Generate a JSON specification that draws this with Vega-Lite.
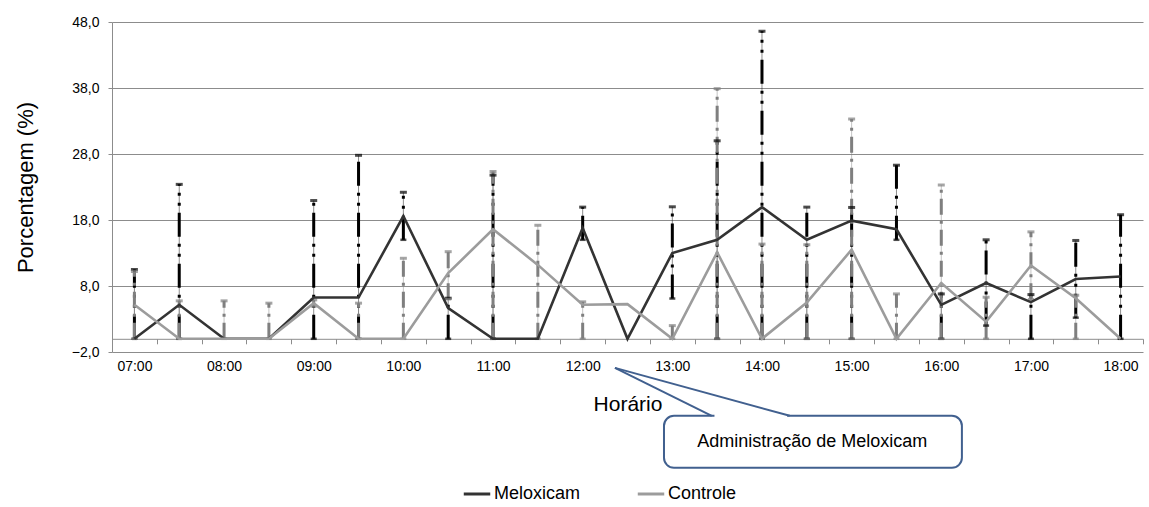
{
  "$schema": "https://vega.github.io/schema/vega-lite/v6.json",
  "width": 1031,
  "height": 330,
  "autosize": "none",
  "padding": {"left": 112, "top": 22, "right": 6, "bottom": 155},
  "background": "white",
  "config": {
    "font": "Liberation Sans",
    "view": {"stroke": null},
    "axisY": {
      "grid": true, "gridColor": "#8c8c8c", "gridWidth": 1,
      "domainColor": "#8c8c8c", "tickColor": "#8c8c8c", "tickSize": 4,
      "labelFontSize": 14, "labelColor": "#000000", "labelPadding": 9,
      "titleFontSize": 22, "titleFontWeight": "normal", "titleColor": "#000000", "titlePadding": 34
    },
    "axisX": {
      "grid": false, "domainColor": "#8c8c8c", "tickColor": "#8c8c8c",
      "labelFontSize": 14, "labelColor": "#000000",
      "titleFontSize": 21, "titleFontWeight": "normal", "titleColor": "#000000"
    },
    "legend": {"labelFontSize": 18, "labelColor": "#000000"}
  },
  "datasets": {
    "dados": [
      {"hora": 7.0, "serie": "Meloxicam", "valor": 0, "min": 0, "max": 10.5},
      {"hora": 7.5, "serie": "Meloxicam", "valor": 5.15, "min": 0, "max": 23.4},
      {"hora": 8.0, "serie": "Meloxicam", "valor": 0, "min": 0, "max": 0},
      {"hora": 8.5, "serie": "Meloxicam", "valor": 0, "min": 0, "max": 0},
      {"hora": 9.0, "serie": "Meloxicam", "valor": 6.25, "min": 0, "max": 20.95},
      {"hora": 9.5, "serie": "Meloxicam", "valor": 6.25, "min": 0, "max": 27.8},
      {"hora": 10.0, "serie": "Meloxicam", "valor": 18.6, "min": 15.0, "max": 22.2},
      {"hora": 10.5, "serie": "Meloxicam", "valor": 4.65, "min": 0, "max": 6.15},
      {"hora": 11.0, "serie": "Meloxicam", "valor": 0, "min": 0, "max": 24.8},
      {"hora": 11.5, "serie": "Meloxicam", "valor": 0, "min": 0, "max": 0},
      {"hora": 12.0, "serie": "Meloxicam", "valor": 16.8, "min": 15.0, "max": 19.95},
      {"hora": 12.5, "serie": "Meloxicam", "valor": 0, "min": 0, "max": 0},
      {"hora": 13.0, "serie": "Meloxicam", "valor": 13.0, "min": 6.1, "max": 20.0},
      {"hora": 13.5, "serie": "Meloxicam", "valor": 15.0, "min": 0, "max": 30.0},
      {"hora": 14.0, "serie": "Meloxicam", "valor": 19.95, "min": 0, "max": 46.6},
      {"hora": 14.5, "serie": "Meloxicam", "valor": 15.0, "min": 0, "max": 19.95},
      {"hora": 15.0, "serie": "Meloxicam", "valor": 17.9, "min": 0, "max": 19.9},
      {"hora": 15.5, "serie": "Meloxicam", "valor": 16.6, "min": 15.0, "max": 26.3},
      {"hora": 16.0, "serie": "Meloxicam", "valor": 5.15, "min": 0, "max": 6.8},
      {"hora": 16.5, "serie": "Meloxicam", "valor": 8.45, "min": 2.0, "max": 15.0},
      {"hora": 17.0, "serie": "Meloxicam", "valor": 5.55, "min": 0, "max": 6.7},
      {"hora": 17.5, "serie": "Meloxicam", "valor": 9.05, "min": 3.2, "max": 14.9},
      {"hora": 18.0, "serie": "Meloxicam", "valor": 9.45, "min": 0, "max": 18.8},
      {"hora": 7.0, "serie": "Controle", "valor": 5.15, "min": 0, "max": 10.2},
      {"hora": 7.5, "serie": "Controle", "valor": 0, "min": 0, "max": 5.75},
      {"hora": 8.0, "serie": "Controle", "valor": 0, "min": 0, "max": 5.75},
      {"hora": 8.5, "serie": "Controle", "valor": 0, "min": 0, "max": 5.4},
      {"hora": 9.0, "serie": "Controle", "valor": 5.4, "min": 4.9, "max": 5.9},
      {"hora": 9.5, "serie": "Controle", "valor": 0, "min": 0, "max": 5.4},
      {"hora": 10.0, "serie": "Controle", "valor": 0, "min": 0, "max": 12.2},
      {"hora": 10.5, "serie": "Controle", "valor": 9.95, "min": 6.0, "max": 13.2},
      {"hora": 11.0, "serie": "Controle", "valor": 16.6, "min": 0, "max": 25.35},
      {"hora": 11.5, "serie": "Controle", "valor": 11.2, "min": 0, "max": 17.2},
      {"hora": 12.0, "serie": "Controle", "valor": 5.15, "min": 0, "max": 5.6},
      {"hora": 12.5, "serie": "Controle", "valor": 5.25, "min": 5.25, "max": 5.25},
      {"hora": 13.0, "serie": "Controle", "valor": 0, "min": 0, "max": 2.0},
      {"hora": 13.5, "serie": "Controle", "valor": 13.1, "min": 0, "max": 37.9},
      {"hora": 14.0, "serie": "Controle", "valor": 0, "min": 0, "max": 14.35},
      {"hora": 14.5, "serie": "Controle", "valor": 5.5, "min": 0, "max": 14.25},
      {"hora": 15.0, "serie": "Controle", "valor": 13.5, "min": 0, "max": 33.3},
      {"hora": 15.5, "serie": "Controle", "valor": 0, "min": 0, "max": 6.8},
      {"hora": 16.0, "serie": "Controle", "valor": 8.45, "min": 0, "max": 23.3},
      {"hora": 16.5, "serie": "Controle", "valor": 2.6, "min": 0, "max": 6.3},
      {"hora": 17.0, "serie": "Controle", "valor": 11.1, "min": 6.0, "max": 16.2},
      {"hora": 17.5, "serie": "Controle", "valor": 6.15, "min": 0, "max": 6.6},
      {"hora": 18.0, "serie": "Controle", "valor": 0, "min": 0, "max": 0}
    ],
    "anotacao": [{"texto": "Administração de Meloxicam"}]
  },
  "resolve": {"axis": {"x": "independent"}},
  "layer": [
    {
      "data": {"name": "dados"},
      "mark": {"type": "line", "strokeWidth": 2.6, "opacity": 0},
      "encoding": {
        "x": {"field": "hora", "type": "quantitative", "scale": {"domain": [6.75, 18.25], "nice": false, "zero": false},
              "axis": {"orient": "bottom", "values": [7, 8, 9, 10, 11, 12, 13, 14, 15, 16, 17, 18],
                       "labelExpr": "(datum.value < 10 ? '0' : '') + datum.value + ':00'",
                       "ticks": false, "domain": true, "grid": false, "offset": -13.2, "labelPadding": 21,
                       "title": "Horário", "titlePadding": 20}},
        "y": {"field": "valor", "type": "quantitative", "title": "Porcentagem (%)",
              "scale": {"domain": [-2, 48], "nice": false, "zero": false},
              "axis": {"values": [-2, 8, 18, 28, 38, 48], "format": ".1f", "labelExpr": "replace(datum.label, '.', ',')"}},
        "color": {"field": "serie", "type": "nominal",
                  "scale": {"domain": ["Meloxicam", "Controle"], "range": ["#333333", "#9c9c9c"]},
                  "legend": {"orient": "none", "legendX": 350, "legendY": 457, "direction": "horizontal", "title": null,
                             "symbolType": "stroke", "symbolSize": 700, "symbolStrokeWidth": 3, "symbolOpacity": 1,
                             "labelFontSize": 18, "labelColor": "#000000", "columnPadding": 50, "labelOffset": 2}}
      }
    },
    {
      "data": {"name": "dados"},
      "transform": [{"filter": "datum.max > datum.min"}],
      "mark": {"type": "rule", "strokeWidth": 1, "opacity": 0.45},
      "encoding": {
        "x": {"field": "hora", "type": "quantitative",
              "axis": {"orient": "bottom", "values": [6.75, 7.25, 7.75, 8.25, 8.75, 9.25, 9.75, 10.25, 10.75, 11.25, 11.75, 12.25, 12.75, 13.25, 13.75, 14.25, 14.75, 15.25, 15.75, 16.25, 16.75, 17.25, 17.75, 18.25],
                       "labels": false, "ticks": true, "tickSize": 5, "domain": false, "grid": false, "offset": -13.2, "title": null}},
        "y": {"field": "min", "type": "quantitative", "title": "Porcentagem (%)"},
        "y2": {"field": "max"},
        "stroke": {"field": "serie", "type": "nominal", "scale": {"domain": ["Controle", "Meloxicam"], "range": ["#7f7f7f", "#000000"]}, "legend": null}
      }
    },
    {
      "data": {"name": "dados"},
      "transform": [{"filter": "datum.max > datum.min"}],
      "mark": {"type": "rule", "strokeWidth": 3},
      "encoding": {
        "x": {"field": "hora", "type": "quantitative", "axis": null},
        "y": {"field": "min", "type": "quantitative", "title": "Porcentagem (%)"},
        "y2": {"field": "max"},
        "stroke": {"field": "serie", "type": "nominal", "legend": null},
        "strokeDash": {"field": "serie", "type": "nominal", "scale": {"domain": ["Controle", "Meloxicam"], "range": [[16, 6, 3, 6], [24, 7, 3, 7, 3, 7]]}, "legend": null}
      }
    },
    {
      "data": {"name": "dados"},
      "transform": [{"filter": "datum.max > datum.min"}],
      "mark": {"type": "tick", "orient": "horizontal", "size": 7, "thickness": 3},
      "encoding": {
        "x": {"field": "hora", "type": "quantitative", "axis": null},
        "y": {"field": "max", "type": "quantitative", "title": "Porcentagem (%)"},
        "fill": {"field": "serie", "type": "nominal", "scale": {"domain": ["Controle", "Meloxicam"], "range": ["#7f7f7f", "#000000"]}, "legend": null}
      }
    },
    {
      "data": {"name": "dados"},
      "transform": [{"filter": "datum.max > datum.min"}],
      "mark": {"type": "tick", "orient": "horizontal", "size": 6, "thickness": 2.5},
      "encoding": {
        "x": {"field": "hora", "type": "quantitative", "axis": null},
        "y": {"field": "min", "type": "quantitative", "title": "Porcentagem (%)"},
        "fill": {"field": "serie", "type": "nominal", "legend": null}
      }
    },
    {
      "data": {"name": "dados"},
      "mark": {"type": "line", "strokeWidth": 2.6},
      "encoding": {
        "x": {"field": "hora", "type": "quantitative", "axis": null},
        "y": {"field": "valor", "type": "quantitative", "title": "Porcentagem (%)"},
        "color": {"field": "serie", "type": "nominal"}
      }
    },
    {
      "data": {"name": "anotacao"},
      "mark": {"type": "rect", "cornerRadius": 10, "fill": "white", "stroke": "#41608f", "strokeWidth": 2},
      "encoding": {
        "x": {"datum": 12.907, "type": "quantitative", "axis": null},
        "x2": {"datum": 16.23},
        "y": {"datum": -11.67, "type": "quantitative"},
        "y2": {"datum": -19.55}
      }
    },
    {
      "data": {"name": "anotacao"},
      "mark": {"type": "rule", "stroke": "white", "strokeWidth": 4},
      "encoding": {
        "x": {"datum": 13.47, "type": "quantitative", "axis": null},
        "x2": {"datum": 14.28},
        "y": {"datum": -11.67, "type": "quantitative"}
      }
    },
    {
      "data": {"name": "anotacao"},
      "mark": {"type": "rule", "stroke": "#41608f", "strokeWidth": 2},
      "encoding": {
        "x": {"datum": 12.36, "type": "quantitative", "axis": null},
        "x2": {"datum": 13.44},
        "y": {"datum": -4.4, "type": "quantitative"},
        "y2": {"datum": -11.67}
      }
    },
    {
      "data": {"name": "anotacao"},
      "mark": {"type": "rule", "stroke": "#41608f", "strokeWidth": 2},
      "encoding": {
        "x": {"datum": 12.36, "type": "quantitative", "axis": null},
        "x2": {"datum": 14.31},
        "y": {"datum": -4.4, "type": "quantitative"},
        "y2": {"datum": -11.67}
      }
    },
    {
      "data": {"name": "anotacao"},
      "mark": {"type": "text", "fontSize": 18, "color": "#000000", "align": "center", "baseline": "middle"},
      "encoding": {
        "x": {"datum": 14.56, "type": "quantitative", "axis": null},
        "y": {"datum": -15.6, "type": "quantitative"},
        "text": {"field": "texto", "type": "nominal"}
      }
    }
  ]
}
